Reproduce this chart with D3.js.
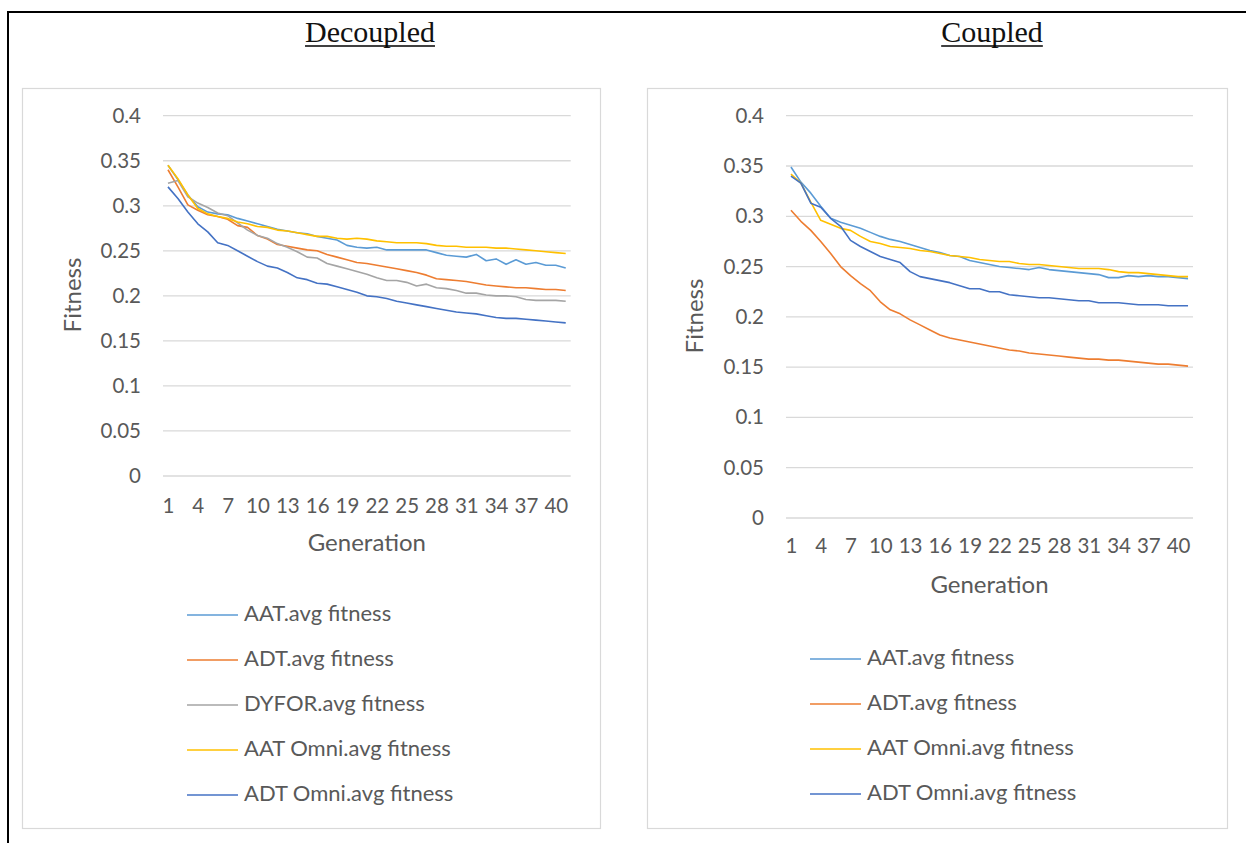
<!DOCTYPE html>
<html>
<head>
<meta charset="utf-8">
<script src="https://cdn.jsdelivr.net/npm/d3@7"></script>
<style>
  html, body { margin: 0; padding: 0; background: #fff; }
  svg { display: block; }
</style>
</head>
<body>
<svg id="chart" width="1246" height="861"></svg>
<script>
// ---------- data ----------
const generations = d3.range(1, 42);
const xTickLabels = [1, 4, 7, 10, 13, 16, 19, 22, 25, 28, 31, 34, 37, 40];
const yTickLabels = [0, 0.05, 0.1, 0.15, 0.2, 0.25, 0.3, 0.35, 0.4];

// Decoupled
const decAAT = [0.345,0.329,0.312,0.299,0.293,0.291,0.290,0.286,0.283,0.280,0.277,0.274,0.272,0.270,0.269,0.266,0.264,0.262,0.256,0.254,0.253,0.254,0.251,0.251,0.251,0.251,0.251,0.248,0.245,0.244,0.243,0.246,0.239,0.241,0.235,0.240,0.235,0.237,0.234,0.234,0.231];
const decADT = [0.340,0.321,0.301,0.295,0.290,0.288,0.285,0.278,0.276,0.267,0.263,0.257,0.255,0.253,0.251,0.250,0.246,0.243,0.240,0.237,0.236,0.234,0.232,0.230,0.228,0.226,0.223,0.219,0.218,0.217,0.216,0.214,0.212,0.211,0.210,0.209,0.209,0.208,0.207,0.207,0.206];
const decDYFOR = [0.325,0.328,0.310,0.303,0.298,0.292,0.289,0.281,0.273,0.267,0.264,0.258,0.254,0.249,0.243,0.242,0.236,0.233,0.230,0.227,0.224,0.220,0.217,0.217,0.215,0.211,0.213,0.209,0.208,0.206,0.203,0.203,0.201,0.200,0.200,0.199,0.196,0.195,0.195,0.195,0.194];
const decAATOmni = [0.345,0.330,0.312,0.297,0.291,0.288,0.286,0.282,0.280,0.277,0.276,0.273,0.272,0.270,0.268,0.266,0.266,0.264,0.263,0.264,0.263,0.261,0.260,0.259,0.259,0.259,0.258,0.256,0.255,0.255,0.254,0.254,0.254,0.253,0.253,0.252,0.251,0.250,0.249,0.248,0.247];
const decADTOmni = [0.321,0.308,0.293,0.280,0.271,0.259,0.256,0.250,0.244,0.238,0.233,0.231,0.226,0.220,0.218,0.214,0.213,0.210,0.207,0.204,0.200,0.199,0.197,0.194,0.192,0.190,0.188,0.186,0.184,0.182,0.181,0.180,0.178,0.176,0.175,0.175,0.174,0.173,0.172,0.171,0.170];

// Coupled
const copAAT = [0.349,0.334,0.323,0.310,0.298,0.294,0.291,0.288,0.284,0.280,0.277,0.275,0.272,0.269,0.266,0.264,0.261,0.260,0.256,0.254,0.252,0.250,0.249,0.248,0.247,0.249,0.247,0.246,0.245,0.244,0.243,0.242,0.239,0.239,0.241,0.240,0.241,0.240,0.240,0.239,0.238];
const copADT = [0.306,0.295,0.286,0.275,0.263,0.250,0.241,0.233,0.226,0.215,0.207,0.203,0.197,0.192,0.187,0.182,0.179,0.177,0.175,0.173,0.171,0.169,0.167,0.166,0.164,0.163,0.162,0.161,0.160,0.159,0.158,0.158,0.157,0.157,0.156,0.155,0.154,0.153,0.153,0.152,0.151];
const copAATOmni = [0.342,0.333,0.314,0.296,0.292,0.288,0.286,0.280,0.275,0.273,0.270,0.269,0.268,0.266,0.265,0.263,0.261,0.260,0.259,0.257,0.256,0.255,0.255,0.253,0.252,0.252,0.251,0.250,0.249,0.248,0.248,0.248,0.247,0.245,0.244,0.244,0.243,0.242,0.241,0.240,0.240];
const copADTOmni = [0.340,0.333,0.313,0.309,0.298,0.290,0.276,0.270,0.265,0.260,0.257,0.254,0.245,0.240,0.238,0.236,0.234,0.231,0.228,0.228,0.225,0.225,0.222,0.221,0.220,0.219,0.219,0.218,0.217,0.216,0.216,0.214,0.214,0.214,0.213,0.212,0.212,0.212,0.211,0.211,0.211];

const decSeries = [
  { name: "AAT.avg fitness", values: decAAT, color: "#5B9BD5" },
  { name: "ADT.avg fitness", values: decADT, color: "#ED7D31" },
  { name: "DYFOR.avg fitness", values: decDYFOR, color: "#A5A5A5" },
  { name: "AAT Omni.avg fitness", values: decAATOmni, color: "#FFC000" },
  { name: "ADT Omni.avg fitness", values: decADTOmni, color: "#4472C4" }
];
const copSeries = [
  { name: "AAT.avg fitness", values: copAAT, color: "#5B9BD5" },
  { name: "ADT.avg fitness", values: copADT, color: "#ED7D31" },
  { name: "AAT Omni.avg fitness", values: copAATOmni, color: "#FFC000" },
  { name: "ADT Omni.avg fitness", values: copADTOmni, color: "#4472C4" }
];

// ---------- drawing ----------
const svg = d3.select("#chart");
const FONT = "Lato, 'Open Sans', sans-serif";
const TXT = "#595959";

// outer frame (left and top edges)
svg.append("line").attr("x1", 8).attr("y1", 12).attr("x2", 1246).attr("y2", 12)
  .attr("stroke", "#000").attr("stroke-width", 2);
svg.append("line").attr("x1", 8).attr("y1", 11).attr("x2", 8).attr("y2", 843)
  .attr("stroke", "#000").attr("stroke-width", 2);

function fmt(d) { return String(+d.toFixed(2)); }

function drawChart(cfg) {
  const g = svg.append("g");
  // title
  const t = g.append("text")
    .attr("x", cfg.titleX).attr("y", 42)
    .attr("text-anchor", "middle")
    .attr("font-family", "'Liberation Serif', 'Times New Roman', serif")
    .attr("font-size", 30)
    .attr("fill", "#111")
    .text(cfg.title);
  const tw = t.node().getComputedTextLength();
  g.append("line")
    .attr("x1", cfg.titleX - tw / 2).attr("x2", cfg.titleX + tw / 2)
    .attr("y1", 46).attr("y2", 46)
    .attr("stroke", "#000").attr("stroke-width", 1.5);

  // chart box
  g.append("rect")
    .attr("x", cfg.box.x + 0.5).attr("y", cfg.box.y + 0.5)
    .attr("width", cfg.box.w).attr("height", cfg.box.h)
    .attr("fill", "#fff").attr("stroke", "#d9d9d9").attr("stroke-width", 1.2);

  const x = d3.scalePoint().domain(generations).range([cfg.px0, cfg.px1]).padding(0.5);
  const y = d3.scaleLinear().domain([0, 0.4]).range([cfg.py1, cfg.py0]);

  // gridlines
  g.append("g").selectAll("line").data(yTickLabels).join("line")
    .attr("x1", cfg.px0).attr("x2", cfg.px1)
    .attr("y1", d => y(d)).attr("y2", d => y(d))
    .attr("stroke", "#d9d9d9").attr("stroke-width", 1.3);

  // y axis
  const ya = g.append("g")
    .attr("transform", `translate(${cfg.px0},0)`)
    .call(d3.axisLeft(y).tickValues(yTickLabels).tickFormat(fmt).tickSize(0).tickPadding(cfg.px0 - cfg.ylabX));
  ya.select(".domain").remove();
  ya.selectAll("text").attr("font-family", FONT).attr("font-size", cfg.fs).attr("fill", TXT);

  // x axis
  const xa = g.append("g")
    .attr("transform", `translate(0,${cfg.py1})`)
    .call(d3.axisBottom(x).tickValues(xTickLabels).tickSize(0).tickPadding(cfg.xlabPad));
  xa.select(".domain").remove();
  xa.selectAll("text").attr("font-family", FONT).attr("font-size", cfg.fs).attr("fill", TXT);

  // axis titles
  g.append("text")
    .attr("x", (cfg.px0 + cfg.px1) / 2).attr("y", cfg.xTitleY)
    .attr("text-anchor", "middle").attr("dominant-baseline", "middle")
    .attr("font-family", FONT).attr("font-size", cfg.fsTitle).attr("fill", TXT)
    .text("Generation");
  g.append("text")
    .attr("transform", `translate(${cfg.yTitleX},${cfg.yTitleY}) rotate(-90)`)
    .attr("text-anchor", "middle").attr("dominant-baseline", "middle")
    .attr("font-family", FONT).attr("font-size", cfg.fsTitle).attr("fill", TXT)
    .text("Fitness");

  // lines
  const line = d3.line().x((d, i) => x(generations[i])).y(d => y(d));
  g.append("g").selectAll("path").data(cfg.series).join("path")
    .attr("d", d => line(d.values))
    .attr("fill", "none")
    .attr("stroke", d => d.color)
    .attr("stroke-width", 1.6)
    .attr("stroke-linejoin", "round");

  // legend
  const lg = g.append("g").selectAll("g").data(cfg.series).join("g")
    .attr("transform", (d, i) => `translate(0,${cfg.legY0 + i * 45})`);
  lg.append("line")
    .attr("x1", cfg.legL0).attr("x2", cfg.legL1).attr("y1", 0).attr("y2", 0)
    .attr("stroke", d => d.color).attr("stroke-width", 1.6);
  lg.append("text")
    .attr("x", cfg.legT).attr("y", 0)
    .attr("dominant-baseline", "middle")
    .attr("font-family", FONT).attr("font-size", cfg.fsLeg).attr("fill", TXT)
    .text(d => d.name);
}

drawChart({
  title: "Decoupled", titleX: 370,
  box: { x: 22, y: 88, w: 578, h: 740 },
  px0: 163, px1: 570.7, py0: 115.7, py1: 476,
  ylabX: 141, xlabPad: 22, xTitleY: 545, yTitleX: 75, yTitleY: 295,
  fs: 20.5, fsTitle: 24, fsLeg: 22,
  legL0: 187, legL1: 238, legT: 244, legY0: 615,
  series: decSeries
});

drawChart({
  title: "Coupled", titleX: 992,
  box: { x: 647, y: 88, w: 580, h: 740 },
  px0: 786, px1: 1193, py0: 115.7, py1: 518,
  ylabX: 764, xlabPad: 20, xTitleY: 587, yTitleX: 697, yTitleY: 316,
  fs: 20.5, fsTitle: 24, fsLeg: 22,
  legL0: 810, legL1: 861, legT: 867, legY0: 659,
  series: copSeries
});
</script>
</body>
</html>
